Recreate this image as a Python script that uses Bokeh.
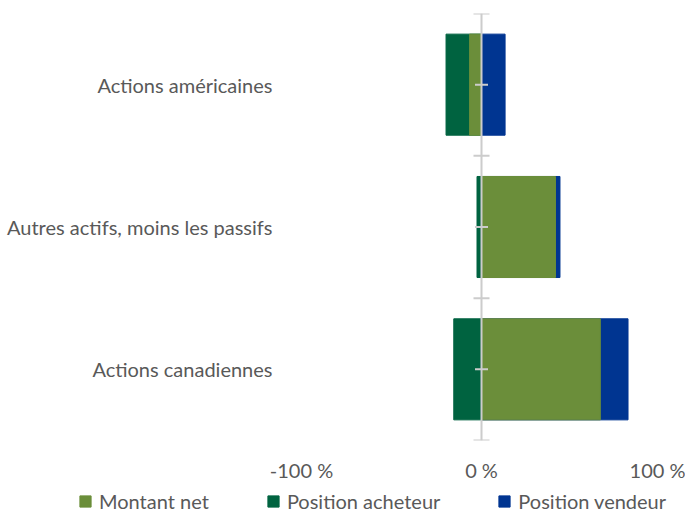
from bokeh.plotting import figure
from bokeh.models import (Range1d, FixedTicker, Legend, LegendItem,
                          ColumnDataSource, Span)
from bokeh.embed import file_html
from bokeh.resources import INLINE

# ---- data (bottom to top) ----
categories = ["Actions canadiennes", "Autres actifs, moins les passifs", "Actions américaines"]
acheteur = [-15.4, -2.5, -19.7]   # Position acheteur (%)
vendeur = [81.4, 43.6, 13.1]      # Position vendeur (%)
net = [66.0, 41.1, -6.6]          # Montant net (%)
x_ticks = [-100, 0, 100]
x_tick_labels = ["-100 %", "0 %", "100 %"]
legend_labels = ["Montant net", "Position acheteur", "Position vendeur"]

FONT = "Lato"
FS = "20px"
TXT = "#595959"
C_NET = "#6B8E3A"
C_ACH = "#006340"
C_VEN = "#003591"
AX = "#cccccc"

W = 685
H_MAIN = 484
H_LEG = 513 - H_MAIN

pos = [i + 0.5 for i in range(len(categories))]
bounds = [float(i) for i in range(len(categories) + 1)]
src = ColumnDataSource(dict(y=pos, ach=acheteur, ven=vendeur, net=net))

p = figure(width=W, height=H_MAIN, output_backend="svg", toolbar_location=None,
           x_range=Range1d(-100, 100), y_range=Range1d(0, len(categories)),
           min_border_left=301, min_border_right=24, min_border_top=13,
           min_border_bottom=H_MAIN - 441, outline_line_color=None)
p.grid.visible = False

bh = 0.71
p.hbar(y="y", left=0, right="ach", height=bh, source=src,
       fill_color=C_ACH, line_color=C_ACH)
p.hbar(y="y", left=0, right="ven", height=bh, source=src,
       fill_color=C_VEN, line_color=C_VEN)
p.hbar(y="y", left=0, right="net", height=bh, source=src,
       fill_color=C_NET, line_color=C_NET)

# zero axis line with tick marks at category bounds and centres
p.add_layout(Span(location=0, dimension="height", line_color=AX, line_width=2))
p.scatter(x=[0] * len(bounds), y=bounds, marker="dash", size=16,
          line_color=AX, line_width=2)
p.scatter(x=[0] * len(pos), y=pos, marker="dash", size=13,
          line_color=AX, line_width=2)

# x axis: labels only
xa = p.xaxis[0]
xa.ticker = FixedTicker(ticks=x_ticks)
xa.major_label_overrides = {t: l for t, l in zip(x_ticks, x_tick_labels)}
xa.axis_line_color = None
xa.major_tick_line_color = None
xa.minor_tick_line_color = None
xa.major_label_standoff = 11
xa.major_label_text_font = FONT
xa.major_label_text_font_size = FS
xa.major_label_text_color = TXT

# y axis: category labels only
ya = p.yaxis[0]
ya.ticker = FixedTicker(ticks=pos)
ya.major_label_overrides = {t: c for t, c in zip(pos, categories)}
ya.axis_line_color = None
ya.major_tick_line_color = None
ya.minor_tick_line_color = None
ya.major_label_standoff = 23
ya.major_label_text_font = FONT
ya.major_label_text_font_size = FS
ya.major_label_text_color = TXT

# legend strip below the chart (its own root so its frame spans the width)
lf = figure(width=W, height=H_LEG, output_backend="svg", toolbar_location=None,
            x_range=Range1d(-100, 100), y_range=Range1d(0, len(categories)),
            min_border=0, outline_line_color=None)
lf.xaxis.visible = False
lf.yaxis.visible = False
lf.grid.visible = False
leg_renderers = [lf.hbar(y="y", left=0, right=col, height=bh, source=src,
                         fill_color=c, line_color=c, visible=False)
                 for col, c in (("net", C_NET), ("ach", C_ACH), ("ven", C_VEN))]
legend = Legend(items=[LegendItem(label=lab, renderers=[r])
                       for lab, r in zip(legend_labels, leg_renderers)],
                orientation="horizontal", location=(78, 0),
                label_text_font=FONT, label_text_font_size=FS,
                label_text_color=TXT, glyph_width=14, glyph_height=14,
                label_standoff=7, spacing=57, padding=0, margin=0,
                label_height=14, border_line_color=None,
                background_fill_alpha=0, inactive_fill_alpha=0)
lf.add_layout(legend)

open("out.html", "w").write(file_html([p, lf], INLINE))
